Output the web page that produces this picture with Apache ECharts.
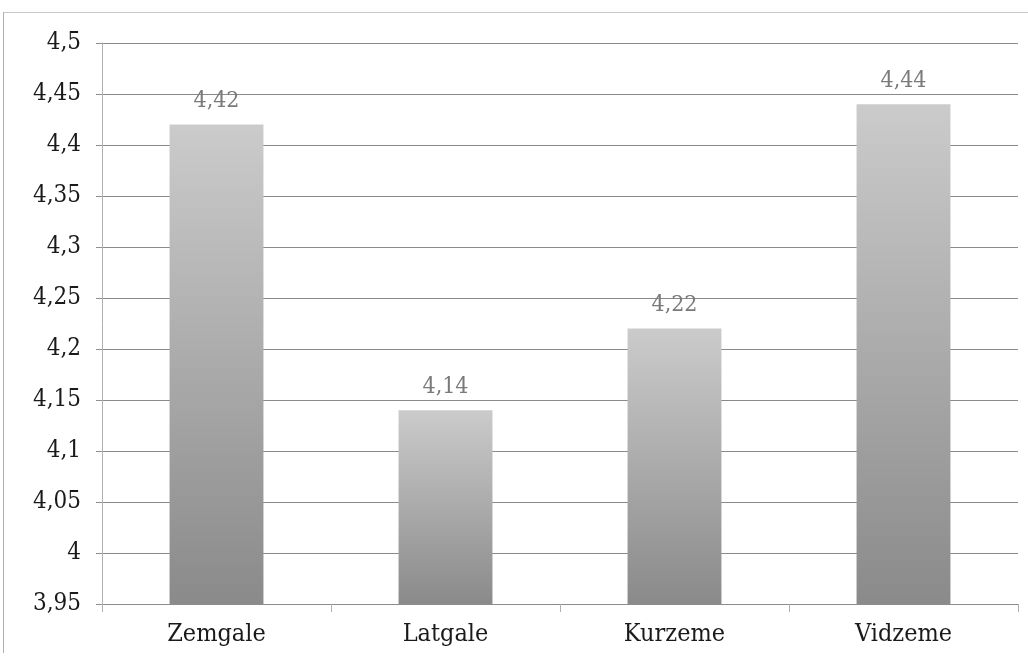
<!DOCTYPE html>
<html>
<head>
<meta charset="utf-8">
<script src="https://cdn.jsdelivr.net/npm/echarts@6/dist/echarts.min.js"></script>
<style>
html,body{margin:0;padding:0;background:#fff;}
#frame{position:absolute;left:3px;top:12px;width:1025px;height:640px;border-left:1px solid #b0b0b0;border-top:1px solid #c8c8c8;}
#chart{position:absolute;left:0;top:0;width:1028px;height:668px;}
</style>
</head>
<body>
<div id="frame"></div>
<div id="chart"></div>
<script>
const categories = ["Zemgale", "Latgale", "Kurzeme", "Vidzeme"];
const values = [4.42, 4.14, 4.22, 4.44];
const yMin = 3.95, yMax = 4.5, yStep = 0.05;

function fmt(v) {
  let s = (Math.round(v * 100) / 100).toFixed(2).replace(/0+$/, '').replace(/\.$/, '');
  return s.replace('.', ',');
}

const FONT = '"DejaVu Serif Condensed", "DejaVu Serif", serif';
const chart = echarts.init(document.getElementById('chart'), null, {renderer: 'canvas'});
chart.setOption({
  backgroundColor: 'transparent',
  animation: false,
  grid: {left: 102, right: 10, top: 43, bottom: 64},
  xAxis: {
    type: 'category',
    data: categories,
    axisLine: {lineStyle: {color: '#8c8c8c', width: 1}},
    axisTick: {show: true, length: 8, lineStyle: {color: '#b0b0b0'}},
    axisLabel: {color: '#1a1a1a', fontFamily: FONT, fontSize: 25, margin: 18}
  },
  yAxis: {
    type: 'value',
    min: yMin, max: yMax, interval: yStep,
    axisLine: {show: true, lineStyle: {color: '#b0b0b0'}},
    axisTick: {show: true, length: 6, lineStyle: {color: '#909090'}},
    splitLine: {lineStyle: {color: '#8a8a8a', width: 1}},
    axisLabel: {color: '#1a1a1a', fontFamily: FONT, fontSize: 24, margin: 21,
      formatter: v => fmt(v)}
  },
  series: [{
    type: 'bar',
    data: values,
    barWidth: '41%',
    itemStyle: {
      color: new echarts.graphic.LinearGradient(0, 0, 0, 1, [
        {offset: 0, color: '#cbcbcb'},
        {offset: 1, color: '#8a8a8a'}
      ])
    },
    label: {
      show: true, position: 'top', distance: 12,
      color: '#7a7a7a', fontFamily: FONT, fontSize: 23,
      formatter: p => fmt(p.value)
    }
  }]
});
</script>
</body>
</html>
